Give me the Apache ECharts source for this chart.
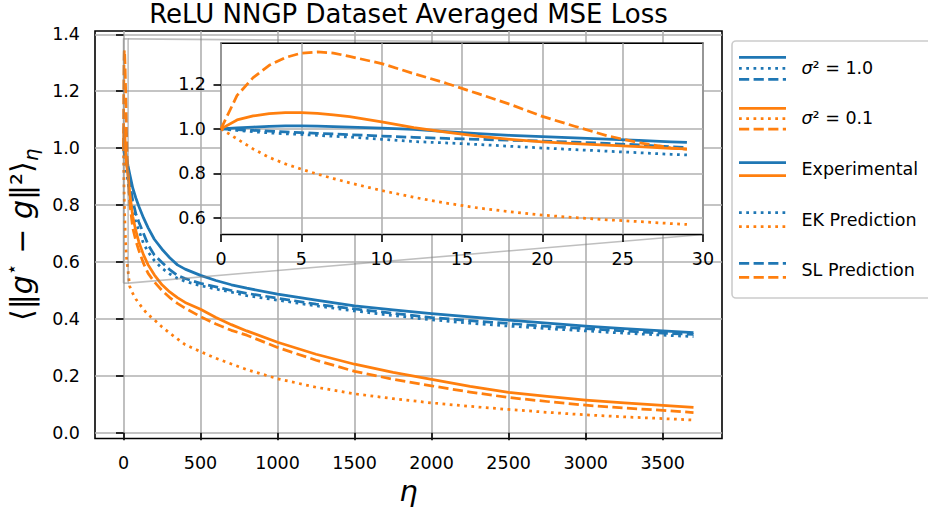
<!DOCTYPE html>
<html>
<head>
<meta charset="utf-8">
<script src="https://cdn.jsdelivr.net/npm/echarts@6/dist/echarts.min.js"></script>
<style>html,body{margin:0;padding:0;background:#fff}#c{width:928px;height:508px}</style>
</head>
<body>
<div id="c"></div>
<script>
// ---------- data ----------
const etaInset = [0,1,2,3,4,5,6,7,8,10,12,14,16,18,20,22,24,26,28,29];
const bExpInset = [1.000,1.004,1.008,1.011,1.013,1.013,1.012,1.010,1.008,1.003,0.998,0.988,0.979,0.971,0.965,0.960,0.954,0.948,0.942,0.939];
const bEKInset  = [1.000,0.993,0.987,0.982,0.978,0.975,0.971,0.967,0.963,0.953,0.943,0.937,0.930,0.922,0.914,0.907,0.900,0.893,0.886,0.883];
const bSLInset  = [1.000,0.997,0.993,0.990,0.986,0.983,0.980,0.977,0.974,0.968,0.962,0.957,0.953,0.949,0.945,0.940,0.935,0.928,0.920,0.916];
const oExpInset = [1.000,1.040,1.058,1.068,1.073,1.073,1.070,1.063,1.055,1.031,1.006,0.985,0.967,0.953,0.942,0.934,0.927,0.920,0.913,0.910];
const oEKInset  = [1.000,0.955,0.910,0.872,0.843,0.819,0.797,0.777,0.758,0.723,0.693,0.667,0.645,0.628,0.613,0.602,0.592,0.584,0.575,0.571];
const oSLInset  = [1.000,1.150,1.230,1.285,1.320,1.340,1.345,1.340,1.325,1.293,1.248,1.205,1.158,1.110,1.056,1.012,0.970,0.938,0.915,0.908];

const etaMain = [40,60,80,100,130,160,200,250,300,350,400,500,600,700,800,1000,1250,1500,1750,2000,2250,2500,2750,3000,3250,3500,3700];
const bExpMain = [0.910,0.860,0.825,0.795,0.755,0.720,0.680,0.645,0.615,0.590,0.575,0.553,0.535,0.520,0.508,0.487,0.466,0.446,0.432,0.419,0.407,0.396,0.385,0.375,0.366,0.358,0.352];
const bEKMain  = [0.830,0.780,0.740,0.710,0.665,0.635,0.605,0.578,0.558,0.543,0.532,0.517,0.505,0.494,0.482,0.466,0.446,0.428,0.412,0.397,0.385,0.375,0.366,0.358,0.350,0.343,0.338];
const bSLMain  = [0.880,0.815,0.770,0.740,0.700,0.660,0.625,0.598,0.573,0.553,0.542,0.525,0.513,0.500,0.490,0.473,0.452,0.435,0.420,0.405,0.394,0.384,0.374,0.366,0.358,0.350,0.346];
const oExpMain = [0.845,0.760,0.710,0.670,0.625,0.590,0.555,0.520,0.495,0.475,0.458,0.434,0.405,0.380,0.358,0.318,0.276,0.241,0.212,0.188,0.163,0.142,0.128,0.115,0.105,0.096,0.089];
const oEKMain  = [0.515,0.490,0.470,0.455,0.433,0.415,0.397,0.372,0.350,0.330,0.310,0.285,0.262,0.242,0.222,0.190,0.160,0.137,0.120,0.105,0.093,0.082,0.072,0.063,0.056,0.050,0.045];
const oSLMain  = [0.810,0.720,0.675,0.640,0.595,0.560,0.530,0.500,0.475,0.455,0.438,0.408,0.382,0.360,0.343,0.300,0.255,0.216,0.188,0.165,0.143,0.124,0.110,0.097,0.087,0.079,0.071];

const xTicksMain = [0,500,1000,1500,2000,2500,3000,3500];
const yTicksMain = [0,0.2,0.4,0.6,0.8,1.0,1.2,1.4];
const xTicksInset = [0,5,10,15,20,25,30];
const yTicksInset = [0.6,0.8,1.0,1.2];

const titleText = 'ReLU NNGP Dataset Averaged MSE Loss';
const legendLabels = ['σ² = 1.0','σ² = 0.1','Experimental','EK Prediction','SL Prediction'];

// ---------- styling ----------
const BLUE = '#1f77b4', ORANGE = '#ff7f0e';
const FONT = 'DejaVu Sans';
const LW = 2.75;
const DASH = {solid:'solid', dash:[10.2,4.4], dot:[2.75,4.5]};
const xMainLim = [-185, 3885], yMainLim = [-0.02, 1.4116];
const xInsetLim = [0, 30], yInsetLim = [0.526, 1.384];

function pairs(xs, ys){ return xs.map((x,i)=>[x, ys[i]]); }

const seriesDefs = [
  {name:'Experimental σ²=1.0', color:BLUE, dash:'solid', inset:bExpInset, main:bExpMain},
  {name:'EK Prediction σ²=1.0', color:BLUE, dash:'dot', inset:bEKInset, main:bEKMain},
  {name:'SL Prediction σ²=1.0', color:BLUE, dash:'dash', inset:bSLInset, main:bSLMain},
  {name:'Experimental σ²=0.1', color:ORANGE, dash:'solid', inset:oExpInset, main:oExpMain},
  {name:'EK Prediction σ²=0.1', color:ORANGE, dash:'dot', inset:oEKInset, main:oEKMain},
  {name:'SL Prediction σ²=0.1', color:ORANGE, dash:'dash', inset:oSLInset, main:oSLMain}
];

function lineSeries(d, xi, yi, data, zl){
  return {
    type:'line', name:d.name, xAxisIndex:xi, yAxisIndex:yi, data:data,
    showSymbol:false, symbol:'none', silent:true, animation:false, zlevel:zl, z:3,
    lineStyle:{color:d.color, width:LW, type:DASH[d.dash], cap:'butt', join:'round'}
  };
}

const series = [];
seriesDefs.forEach(d=>{
  series.push(lineSeries(d,0,0,pairs(etaInset,d.inset).concat(pairs(etaMain,d.main)),0));
});
// inset indicator rectangle (drawn in main axes from the inset limits)
series.push({
  type:'line', name:'inset region', xAxisIndex:0, yAxisIndex:0, silent:true, animation:false,
  showSymbol:false, symbol:'none', zlevel:0, z:4,
  data:[[xInsetLim[0],yInsetLim[0]],[xInsetLim[1],yInsetLim[0]],[xInsetLim[1],yInsetLim[1]],[xInsetLim[0],yInsetLim[1]],[xInsetLim[0],yInsetLim[0]]],
  lineStyle:{color:'rgba(128,128,128,0.5)', width:1.6}
});
seriesDefs.forEach(d=>{
  series.push(lineSeries(d,1,1,pairs(etaInset,d.inset),1));
});

const tickLabel = {color:'#000', fontSize:17.5, fontFamily:FONT};
const gridLine = {show:true, lineStyle:{color:'#b0b0b0', width:1.6}};
const tickStyle = {color:'#000', width:1.6};

const option = {
  backgroundColor:'#fff',
  animation:false,
  title:{
    text:titleText, left:408.5, top:1, textAlign:'center', padding:0,
    textStyle:{fontFamily:FONT, fontSize:26, fontWeight:'normal', color:'#000'}
  },
  grid:[
    {left:95, top:31, right:206, bottom:69.5, show:true, borderColor:'#000', borderWidth:1.6, backgroundColor:'transparent', containLabel:false, outerBoundsMode:'none'},
    {left:221, top:43.3, right:225, bottom:273.5, show:true, borderColor:'#000', borderWidth:1.6, backgroundColor:'#fff', containLabel:false, outerBoundsMode:'none', zlevel:1, z:0}
  ],
  xAxis:[
    {type:'value', gridIndex:0, min:xMainLim[0], max:xMainLim[1],
     axisLine:{show:false}, axisTick:{show:true, length:7.5, lineStyle:tickStyle, customValues:xTicksMain},
     axisLabel:Object.assign({customValues:xTicksMain, margin:15, formatter:v=>String(v)}, tickLabel),
     splitLine:gridLine,
     name:'η', nameLocation:'middle', nameGap:32,
     nameTextStyle:{fontSize:29, fontStyle:'italic', fontFamily:FONT, color:'#000'}},
    {type:'value', gridIndex:1, min:xInsetLim[0], max:xInsetLim[1], zlevel:1,
     axisLine:{show:false}, axisTick:{show:true, length:7.5, lineStyle:tickStyle, customValues:xTicksInset},
     axisLabel:Object.assign({customValues:xTicksInset, margin:15, formatter:v=>String(v)}, tickLabel),
     splitLine:gridLine}
  ],
  yAxis:[
    {type:'value', gridIndex:0, min:yMainLim[0], max:yMainLim[1],
     axisLine:{show:false}, axisTick:{show:true, length:7.5, lineStyle:tickStyle, customValues:yTicksMain},
     axisLabel:Object.assign({customValues:yTicksMain, margin:15, formatter:v=>v.toFixed(1)}, tickLabel),
     splitLine:gridLine,
     name:'{a|⟨‖}{i|g}{sup|⋆}{a| − }{i|g}{a|‖²⟩}{sub|η}', nameLocation:'middle', nameGap:48,
     nameTextStyle:{fontFamily:FONT, color:'#000', fontSize:30,
       rich:{
         a:{fontFamily:FONT, fontSize:30, color:'#000', lineHeight:40, verticalAlign:'middle'},
         i:{fontFamily:FONT, fontSize:30, color:'#000', fontStyle:'italic', lineHeight:40, verticalAlign:'middle'},
         sup:{fontFamily:FONT, fontSize:19, color:'#000', verticalAlign:'top', lineHeight:40},
         sub:{fontFamily:FONT, fontSize:20, color:'#000', fontStyle:'italic', verticalAlign:'bottom', lineHeight:40}
       }}},
    {type:'value', gridIndex:1, min:yInsetLim[0], max:yInsetLim[1], zlevel:1,
     axisLine:{show:false}, axisTick:{show:true, length:7.5, lineStyle:tickStyle, customValues:yTicksInset},
     axisLabel:Object.assign({customValues:yTicksInset, margin:15, formatter:v=>v.toFixed(1)}, tickLabel),
     splitLine:gridLine}
  ],
  series:series
};

const chart = echarts.init(document.getElementById('c'), null, {renderer:'svg', width:928, height:508});
chart.setOption(option);

// connectors from indicator rectangle to inset corners (computed through the scales)
const pRectLR = chart.convertToPixel({gridIndex:0}, [xInsetLim[1], yInsetLim[0]]);
const pRectUR = chart.convertToPixel({gridIndex:0}, [xInsetLim[1], yInsetLim[1]]);
const pInsLR  = chart.convertToPixel({gridIndex:1}, [xInsetLim[1], yInsetLim[0]]);
const pInsUR  = chart.convertToPixel({gridIndex:1}, [xInsetLim[1], yInsetLim[1]]);

const graphic = [];
const connStyle = {stroke:'rgba(128,128,128,0.5)', lineWidth:1.6};
graphic.push({type:'line', zlevel:0, z:5, silent:true, shape:{x1:pRectLR[0],y1:pRectLR[1],x2:pInsLR[0],y2:pInsLR[1]}, style:connStyle});
graphic.push({type:'line', zlevel:0, z:5, silent:true, shape:{x1:pRectUR[0],y1:pRectUR[1],x2:pInsUR[0],y2:pInsUR[1]}, style:connStyle});

// legend (custom multi-line handles)
const LG = {x:732, y:41, w:215, h:257, hx1:739, hx2:786, tx:801.5};
const legendHandles = [
  [[BLUE,'solid',57.3],[BLUE,'dot',68.3],[BLUE,'dash',79.3]],
  [[ORANGE,'solid',108.3],[ORANGE,'dot',118.7],[ORANGE,'dash',129]],
  [[BLUE,'solid',162.7],[ORANGE,'solid',175.7]],
  [[BLUE,'dot',212.7],[ORANGE,'dot',226.7]],
  [[BLUE,'dash',263.3],[ORANGE,'dash',277.3]]
];
const legendTextY = [67.5, 118, 169, 219.5, 270];
graphic.push({type:'rect', zlevel:2, z:1, silent:true,
  shape:{x:LG.x, y:LG.y, width:LG.w, height:LG.h, r:4},
  style:{fill:'rgba(255,255,255,0.8)', stroke:'#cccccc', lineWidth:1.6}});
legendHandles.forEach((hs,i)=>{
  hs.forEach(h=>{
    graphic.push({type:'line', zlevel:2, z:2, silent:true,
      shape:{x1:LG.hx1, y1:h[2], x2:LG.hx2, y2:h[2]},
      style:{stroke:h[0], lineWidth:LW, lineDash:h[1]==='solid'?null:DASH[h[1]], lineCap:'butt'}});
  });
  const lab = legendLabels[i];
  const isSigma = lab.startsWith('σ');
  graphic.push({type:'text', zlevel:2, z:3, silent:true, x:LG.tx, y:legendTextY[i],
    style:{
      text: isSigma ? '{i|σ}{n|' + lab.slice(1) + '}' : lab,
      fill:'#000', fontFamily:FONT, fontSize:17.5, verticalAlign:'middle', align:'left',
      rich:{ i:{fontFamily:FONT, fontSize:17.5, fontStyle:'italic', fill:'#000'}, n:{fontFamily:FONT, fontSize:17.5, fill:'#000'} }
    }});
});
chart.setOption({graphic:graphic});
</script>
</body>
</html>
